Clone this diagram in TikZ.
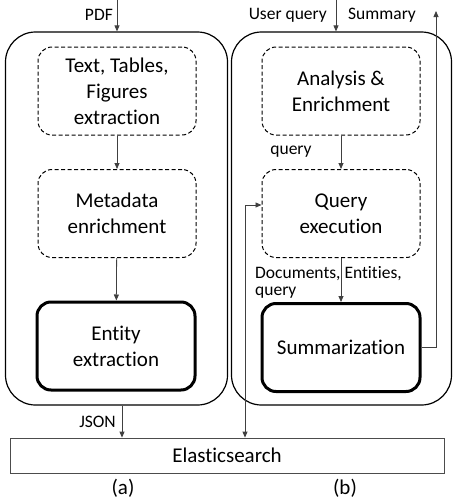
\documentclass[tikz,border=0pt]{standalone}
\usepackage{fontspec}
\setmainfont{Carlito}[Ligatures=NoCommon]
\usetikzlibrary{arrows.meta, positioning}

\begin{document}
\begin{tikzpicture}[x=1pt, y=-1pt,
	outerbox/.style={draw, line width=1.2pt, rounded corners=30pt, minimum width=222pt, minimum height=373pt},
	stagebox/.style={draw, line width=1pt, dash pattern=on 4pt off 2.5pt, rounded corners=14pt, minimum width=158pt, minimum height=88pt, align=center, font=\fontsize{21}{26}\selectfont},
	corebox/.style={stagebox, solid, line width=3pt},
	flow/.style={draw=black!75, line width=0.8pt, -{Triangle[length=6pt,width=5pt]}},
	lbl/.style={inner sep=1pt, font=\fontsize{17.5}{20}\selectfont}]
	\useasboundingbox (0,0) rectangle (457,501);
	% the two pipelines
	\node[outerbox] (pipeA) at (116.5,218.5) {};
	\node[outerbox, minimum width=220pt] (pipeB) at (341.5,218.5) {};
	% pipeline (a)
	\node[stagebox] (extract) at (117,91) {Text, Tables,\\Figures\\extraction};
	\node[stagebox] (meta) at (117,213.5) {Metadata\\enrichment};
	\node[corebox] (entity) at (116,346) {Entity\\extraction};
	% pipeline (b)
	\node[stagebox] (analysis) at (341,91) {Analysis \&\\Enrichment};
	\node[stagebox] (qexec) at (341,213.5) {Query\\execution};
	\node[corebox] (summ) at (341,347.5) {Summarization};
	% index
	\node[draw=black!70, line width=0.8pt, minimum width=434pt, minimum height=35pt, font=\fontsize{21}{26}\selectfont] (elastic) at (227,455.5) {Elasticsearch};
	\node[font=\fontsize{21}{26}\selectfont] (capA) at (123,488) {(a)};
	\node[font=\fontsize{21}{26}\selectfont] (capB) at (345,488) {(b)};
	% free ends
	\coordinate (pdfin) at (117,0);
	\coordinate (userin) at (336,0);
	\coordinate (sumout) at (436,11);
	\coordinate (jsonx) at (122,0);
	\coordinate (link) at (245,205);
	% connectors
	\draw[flow] (pdfin) -- (pipeA.north -| pdfin);
	\node[lbl, anchor=east] (pdflbl) at (114,15) {PDF};
	\draw[flow] (extract) -- (meta);
	\draw[flow] (meta) -- (entity);
	\draw[flow] (pipeA.south -| jsonx) -- (elastic.north -| jsonx);
	\node[lbl, anchor=east] (jsonlbl) at (117,422) {JSON};
	\draw[flow] (userin) -- (pipeB.north -| userin);
	\node[lbl, anchor=east] (userlbl) at (328,15) {User query};
	\node[lbl, anchor=west] (sumlbl) at (347,15) {Summary};
	\draw[flow] (summ.east) -| (sumout);
	\draw[flow] (analysis) -- (qexec);
	\node[lbl] (qlbl) at (291,152) {query};
	\draw[flow] (qexec.south -| summ) -- (summ);
	\node[lbl, anchor=west] (doclbl) at (254,274) {Documents, Entities,};
	\node[lbl, anchor=west] (doclbl2) at (254,293) {query};
	\draw[flow, {Triangle[length=6pt,width=5pt]}-{Triangle[length=6pt,width=5pt]}] (elastic.north -| link) |- (qexec.west |- link);
\end{tikzpicture}
\end{document}
